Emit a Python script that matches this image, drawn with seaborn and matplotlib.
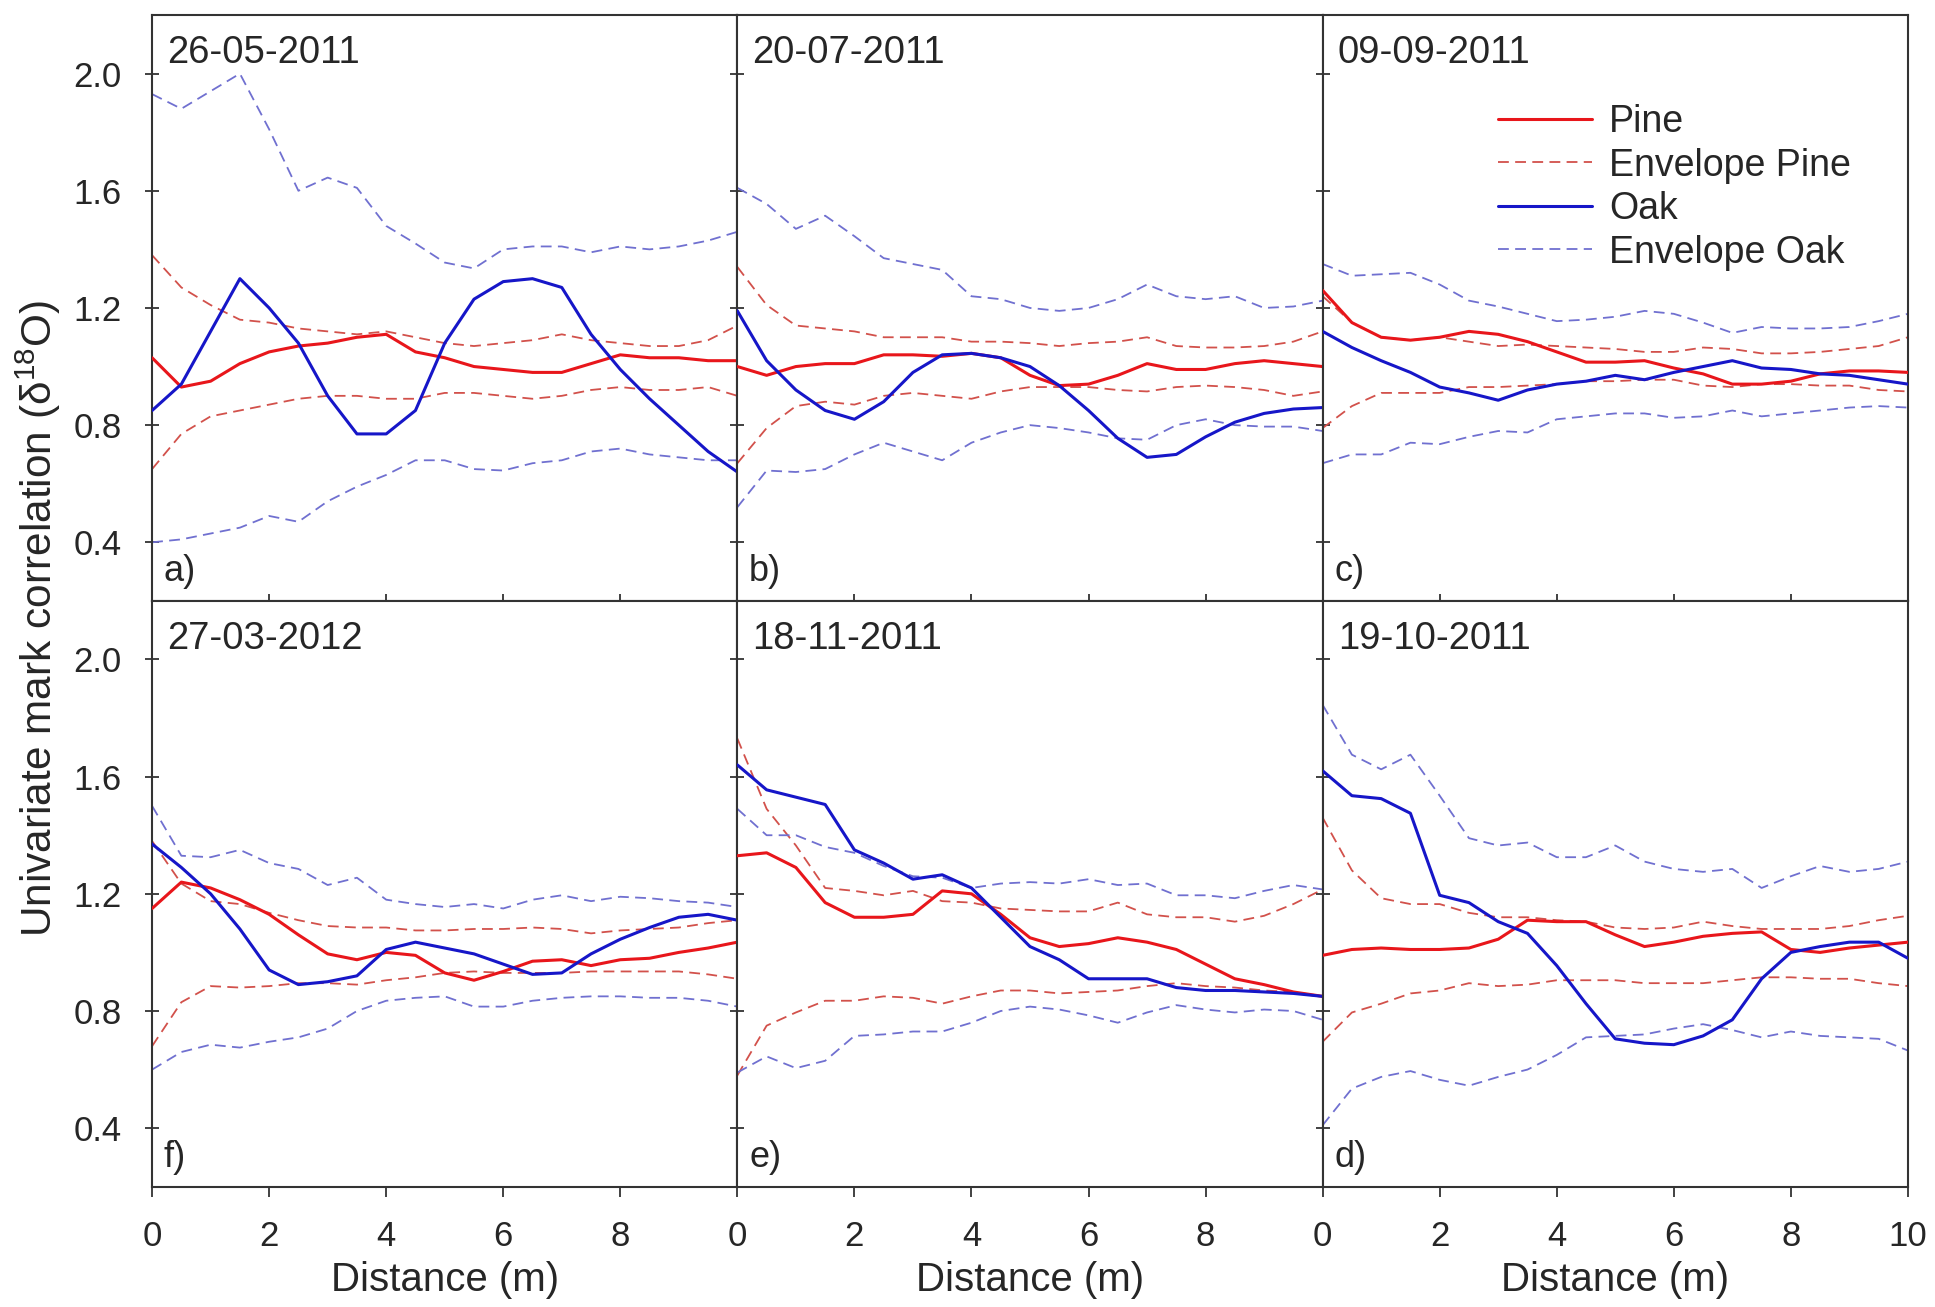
import numpy as np
import matplotlib
matplotlib.use("Agg")
import matplotlib.pyplot as plt
import seaborn as sns

# distance (m) at which the curves were read
dist = [0.0, 0.5, 1.0, 1.5, 2.0, 2.5, 3.0, 3.5, 4.0, 4.5, 5.0,
        5.5, 6.0, 6.5, 7.0, 7.5, 8.0, 8.5, 9.0, 9.5, 10.0]

# a) 26-05-2011
a_pine = [1.03, 0.93, 0.95, 1.01, 1.05, 1.07, 1.08, 1.10, 1.11, 1.05, 1.03, 1.00, 0.99, 0.98, 0.98, 1.01, 1.04, 1.03, 1.03, 1.02, 1.02]
a_pine_hi = [1.38, 1.27, 1.21, 1.16, 1.15, 1.13, 1.12, 1.11, 1.12, 1.10, 1.08, 1.07, 1.08, 1.09, 1.11, 1.09, 1.08, 1.07, 1.07, 1.09, 1.14]
a_pine_lo = [0.65, 0.77, 0.83, 0.85, 0.87, 0.89, 0.90, 0.90, 0.89, 0.89, 0.91, 0.91, 0.90, 0.89, 0.90, 0.92, 0.93, 0.92, 0.92, 0.93, 0.90]
a_oak = [0.85, 0.94, 1.12, 1.30, 1.20, 1.08, 0.90, 0.77, 0.77, 0.85, 1.08, 1.23, 1.29, 1.30, 1.27, 1.11, 0.99, 0.89, 0.80, 0.71, 0.64]
a_oak_hi = [1.93, 1.88, 1.94, 2.00, 1.81, 1.60, 1.645, 1.61, 1.48, 1.42, 1.355, 1.335, 1.40, 1.41, 1.41, 1.39, 1.41, 1.40, 1.41, 1.43, 1.46]
a_oak_lo = [0.40, 0.41, 0.43, 0.45, 0.49, 0.47, 0.54, 0.59, 0.63, 0.68, 0.68, 0.65, 0.645, 0.67, 0.68, 0.71, 0.72, 0.70, 0.69, 0.68, 0.68]

# b) 20-07-2011
b_pine = [1.00, 0.97, 1.00, 1.01, 1.01, 1.04, 1.04, 1.035, 1.045, 1.03, 0.97, 0.935, 0.94, 0.97, 1.01, 0.99, 0.99, 1.01, 1.02, 1.01, 1.00]
b_pine_hi = [1.34, 1.21, 1.14, 1.13, 1.12, 1.10, 1.10, 1.10, 1.085, 1.085, 1.08, 1.07, 1.08, 1.085, 1.10, 1.07, 1.065, 1.065, 1.07, 1.085, 1.12]
b_pine_lo = [0.67, 0.79, 0.865, 0.88, 0.87, 0.90, 0.91, 0.90, 0.89, 0.915, 0.93, 0.93, 0.93, 0.92, 0.915, 0.93, 0.935, 0.93, 0.92, 0.90, 0.915]
b_oak = [1.19, 1.02, 0.92, 0.85, 0.82, 0.88, 0.98, 1.04, 1.045, 1.03, 1.00, 0.935, 0.85, 0.755, 0.69, 0.70, 0.76, 0.81, 0.84, 0.855, 0.86]
b_oak_hi = [1.61, 1.555, 1.47, 1.515, 1.445, 1.37, 1.35, 1.33, 1.24, 1.23, 1.20, 1.19, 1.20, 1.23, 1.28, 1.24, 1.23, 1.24, 1.20, 1.205, 1.225]
b_oak_lo = [0.52, 0.645, 0.64, 0.65, 0.70, 0.74, 0.71, 0.68, 0.74, 0.775, 0.80, 0.79, 0.775, 0.755, 0.75, 0.80, 0.82, 0.80, 0.795, 0.795, 0.78]

# c) 09-09-2011
c_pine = [1.26, 1.15, 1.10, 1.09, 1.10, 1.12, 1.11, 1.085, 1.05, 1.015, 1.015, 1.02, 0.995, 0.975, 0.94, 0.94, 0.95, 0.975, 0.985, 0.985, 0.98]
c_pine_hi = [1.24, 1.15, 1.10, 1.09, 1.10, 1.085, 1.07, 1.075, 1.07, 1.065, 1.06, 1.05, 1.05, 1.065, 1.06, 1.045, 1.045, 1.05, 1.06, 1.07, 1.10]
c_pine_lo = [0.79, 0.865, 0.91, 0.91, 0.91, 0.93, 0.93, 0.935, 0.94, 0.95, 0.95, 0.955, 0.955, 0.935, 0.93, 0.94, 0.94, 0.935, 0.935, 0.92, 0.915]
c_oak = [1.12, 1.065, 1.02, 0.98, 0.93, 0.91, 0.885, 0.92, 0.94, 0.95, 0.97, 0.955, 0.98, 1.00, 1.02, 0.995, 0.99, 0.975, 0.97, 0.955, 0.94]
c_oak_hi = [1.35, 1.31, 1.315, 1.32, 1.28, 1.225, 1.205, 1.18, 1.155, 1.16, 1.17, 1.19, 1.18, 1.15, 1.115, 1.135, 1.13, 1.13, 1.135, 1.155, 1.18]
c_oak_lo = [0.67, 0.70, 0.70, 0.74, 0.735, 0.76, 0.78, 0.775, 0.82, 0.83, 0.84, 0.84, 0.825, 0.83, 0.85, 0.83, 0.84, 0.85, 0.86, 0.865, 0.86]

# f) 27-03-2012
f_pine = [1.15, 1.24, 1.22, 1.18, 1.13, 1.06, 0.995, 0.975, 1.00, 0.99, 0.93, 0.905, 0.935, 0.97, 0.975, 0.955, 0.975, 0.98, 1.00, 1.015, 1.035]
f_pine_hi = [1.38, 1.235, 1.175, 1.165, 1.135, 1.11, 1.09, 1.085, 1.085, 1.075, 1.075, 1.08, 1.08, 1.085, 1.08, 1.065, 1.075, 1.08, 1.085, 1.10, 1.11]
f_pine_lo = [0.68, 0.83, 0.885, 0.88, 0.885, 0.895, 0.895, 0.89, 0.905, 0.915, 0.93, 0.935, 0.93, 0.93, 0.93, 0.935, 0.935, 0.935, 0.935, 0.925, 0.91]
f_oak = [1.37, 1.29, 1.20, 1.08, 0.94, 0.89, 0.90, 0.92, 1.01, 1.035, 1.015, 0.995, 0.96, 0.925, 0.93, 0.995, 1.045, 1.085, 1.12, 1.13, 1.11]
f_oak_hi = [1.50, 1.33, 1.325, 1.35, 1.305, 1.285, 1.23, 1.255, 1.18, 1.165, 1.155, 1.165, 1.15, 1.18, 1.195, 1.175, 1.19, 1.185, 1.175, 1.17, 1.155]
f_oak_lo = [0.60, 0.66, 0.685, 0.675, 0.695, 0.71, 0.74, 0.80, 0.835, 0.845, 0.85, 0.815, 0.815, 0.835, 0.845, 0.85, 0.85, 0.845, 0.845, 0.835, 0.815]

# e) 18-11-2011
e_pine = [1.33, 1.34, 1.29, 1.17, 1.12, 1.12, 1.13, 1.21, 1.20, 1.13, 1.05, 1.02, 1.03, 1.05, 1.035, 1.01, 0.96, 0.91, 0.89, 0.865, 0.85]
e_pine_hi = [1.73, 1.49, 1.365, 1.22, 1.21, 1.195, 1.21, 1.175, 1.17, 1.15, 1.145, 1.14, 1.14, 1.17, 1.13, 1.12, 1.12, 1.105, 1.125, 1.165, 1.215]
e_pine_lo = [0.58, 0.75, 0.795, 0.835, 0.835, 0.85, 0.845, 0.825, 0.85, 0.87, 0.87, 0.86, 0.865, 0.87, 0.885, 0.895, 0.885, 0.88, 0.87, 0.865, 0.85]
e_oak = [1.64, 1.555, 1.53, 1.505, 1.35, 1.305, 1.25, 1.265, 1.22, 1.12, 1.02, 0.975, 0.91, 0.91, 0.91, 0.88, 0.87, 0.87, 0.865, 0.86, 0.85]
e_oak_hi = [1.49, 1.40, 1.40, 1.36, 1.34, 1.295, 1.26, 1.255, 1.22, 1.235, 1.24, 1.235, 1.25, 1.23, 1.235, 1.195, 1.195, 1.185, 1.21, 1.23, 1.215]
e_oak_lo = [0.59, 0.645, 0.605, 0.63, 0.715, 0.72, 0.73, 0.73, 0.76, 0.80, 0.815, 0.805, 0.785, 0.76, 0.795, 0.82, 0.805, 0.795, 0.805, 0.80, 0.77]

# d) 19-10-2011
d_pine = [0.99, 1.01, 1.015, 1.01, 1.01, 1.015, 1.045, 1.11, 1.105, 1.105, 1.06, 1.02, 1.035, 1.055, 1.065, 1.07, 1.01, 1.00, 1.015, 1.025, 1.035]
d_pine_hi = [1.46, 1.28, 1.185, 1.165, 1.165, 1.135, 1.12, 1.12, 1.11, 1.105, 1.085, 1.08, 1.085, 1.105, 1.09, 1.08, 1.08, 1.08, 1.09, 1.11, 1.125]
d_pine_lo = [0.695, 0.795, 0.825, 0.86, 0.87, 0.895, 0.885, 0.89, 0.905, 0.905, 0.905, 0.895, 0.895, 0.895, 0.905, 0.915, 0.915, 0.91, 0.91, 0.895, 0.885]
d_oak = [1.62, 1.535, 1.525, 1.475, 1.195, 1.17, 1.105, 1.065, 0.955, 0.825, 0.705, 0.69, 0.685, 0.715, 0.77, 0.91, 1.00, 1.02, 1.035, 1.035, 0.98]
d_oak_hi = [1.845, 1.675, 1.625, 1.675, 1.535, 1.39, 1.365, 1.375, 1.325, 1.325, 1.365, 1.31, 1.285, 1.275, 1.285, 1.22, 1.26, 1.295, 1.275, 1.285, 1.31]
d_oak_lo = [0.41, 0.535, 0.575, 0.595, 0.565, 0.545, 0.575, 0.60, 0.65, 0.71, 0.715, 0.72, 0.74, 0.755, 0.735, 0.71, 0.73, 0.715, 0.71, 0.705, 0.665]

y_ticks = [0.4, 0.8, 1.2, 1.6, 2.0]

sns.set_style("white")
plt.rcParams['font.family'] = ['Liberation Sans', 'DejaVu Sans']
plt.rcParams['mathtext.fontset'] = 'custom'
plt.rcParams['mathtext.rm'] = 'Liberation Sans'
plt.rcParams['mathtext.default'] = 'regular'

RED = '#e8161b'
BLUE = '#1616c8'
RED_ENV = '#d2514b'
BLUE_ENV = '#7070d0'

fig, axes = plt.subplots(2, 3, figsize=(19.35, 13.07), dpi=100)
fig.subplots_adjust(left=0.0786, right=0.986, top=0.9885, bottom=0.092,
                    wspace=0, hspace=0)

panels = [
    (axes[0, 0], '26-05-2011', 'a)', a_pine, a_pine_hi, a_pine_lo, a_oak, a_oak_hi, a_oak_lo),
    (axes[0, 1], '20-07-2011', 'b)', b_pine, b_pine_hi, b_pine_lo, b_oak, b_oak_hi, b_oak_lo),
    (axes[0, 2], '09-09-2011', 'c)', c_pine, c_pine_hi, c_pine_lo, c_oak, c_oak_hi, c_oak_lo),
    (axes[1, 0], '27-03-2012', 'f)', f_pine, f_pine_hi, f_pine_lo, f_oak, f_oak_hi, f_oak_lo),
    (axes[1, 1], '18-11-2011', 'e)', e_pine, e_pine_hi, e_pine_lo, e_oak, e_oak_hi, e_oak_lo),
    (axes[1, 2], '19-10-2011', 'd)', d_pine, d_pine_hi, d_pine_lo, d_oak, d_oak_hi, d_oak_lo),
]

dash = (0, (6, 3.5))

for i, (ax, date, letter, pine, pine_hi, pine_lo, oak, oak_hi, oak_lo) in enumerate(panels):
    row, col = divmod(i, 3)

    sns.lineplot(x=dist, y=pine, ax=ax, color=RED, lw=2.2, errorbar=None,
                 label='Pine', legend=False, zorder=3)
    sns.lineplot(x=dist, y=pine_hi, ax=ax, color=RED_ENV, lw=1.3, linestyle=dash,
                 errorbar=None, label='Envelope Pine', legend=False, zorder=2)
    sns.lineplot(x=dist, y=pine_lo, ax=ax, color=RED_ENV, lw=1.3, linestyle=dash,
                 errorbar=None, label='_nolegend_', legend=False, zorder=2)
    sns.lineplot(x=dist, y=oak, ax=ax, color=BLUE, lw=2.2, errorbar=None,
                 label='Oak', legend=False, zorder=4)
    sns.lineplot(x=dist, y=oak_hi, ax=ax, color=BLUE_ENV, lw=1.3, linestyle=dash,
                 errorbar=None, label='Envelope Oak', legend=False, zorder=2)
    sns.lineplot(x=dist, y=oak_lo, ax=ax, color=BLUE_ENV, lw=1.3, linestyle=dash,
                 errorbar=None, label='_nolegend_', legend=False, zorder=2)

    ax.set_xlim(0, 10)
    ax.set_ylim(0.2, 2.2)
    ax.set_yticks(y_ticks)
    ax.set_ylabel('')
    ax.set_xlabel('')

    for sp in ax.spines.values():
        sp.set_color('#333333')
        sp.set_linewidth(1.5)

    ax.tick_params(axis='y', direction='inout', length=10, width=1.3,
                   color='#333333', labelsize=25, pad=17, left=True, right=False,
                   labelleft=(col == 0))
    if row == 0:
        ax.set_xticks([2, 4, 6, 8])
        ax.tick_params(axis='x', direction='inout', length=10, width=1.3,
                       color='#333333', bottom=True, labelbottom=False)
    else:
        ax.set_xticks([0, 2, 4, 6, 8, 10] if col == 2 else [0, 2, 4, 6, 8])
        ax.tick_params(axis='x', direction='out', length=7, width=1.3,
                       color='#333333', labelsize=25, pad=17, bottom=True)
        ax.set_xlabel('Distance (m)', fontsize=29, labelpad=6)

    ax.text(0.026, 0.966, date, transform=ax.transAxes, fontsize=27.5,
            ha='left', va='top')
    ax.text(0.02, 0.02, letter, transform=ax.transAxes, fontsize=26,
            ha='left', va='bottom')

# legend in panel c
handles, labels = axes[0, 2].get_legend_handles_labels()
axes[0, 2].legend(handles, labels, loc='upper left', bbox_to_anchor=(0.268, 0.88),
                  frameon=False, fontsize=27, handlelength=2.5, handletextpad=0.45,
                  labelspacing=0.2, borderpad=0)

fig.text(0.02, 0.527, 'Univariate mark correlation ($\\delta^{18}$O)',
         rotation=90, ha='center', va='center', fontsize=30.5)

fig.savefig('out.png', dpi=100)
